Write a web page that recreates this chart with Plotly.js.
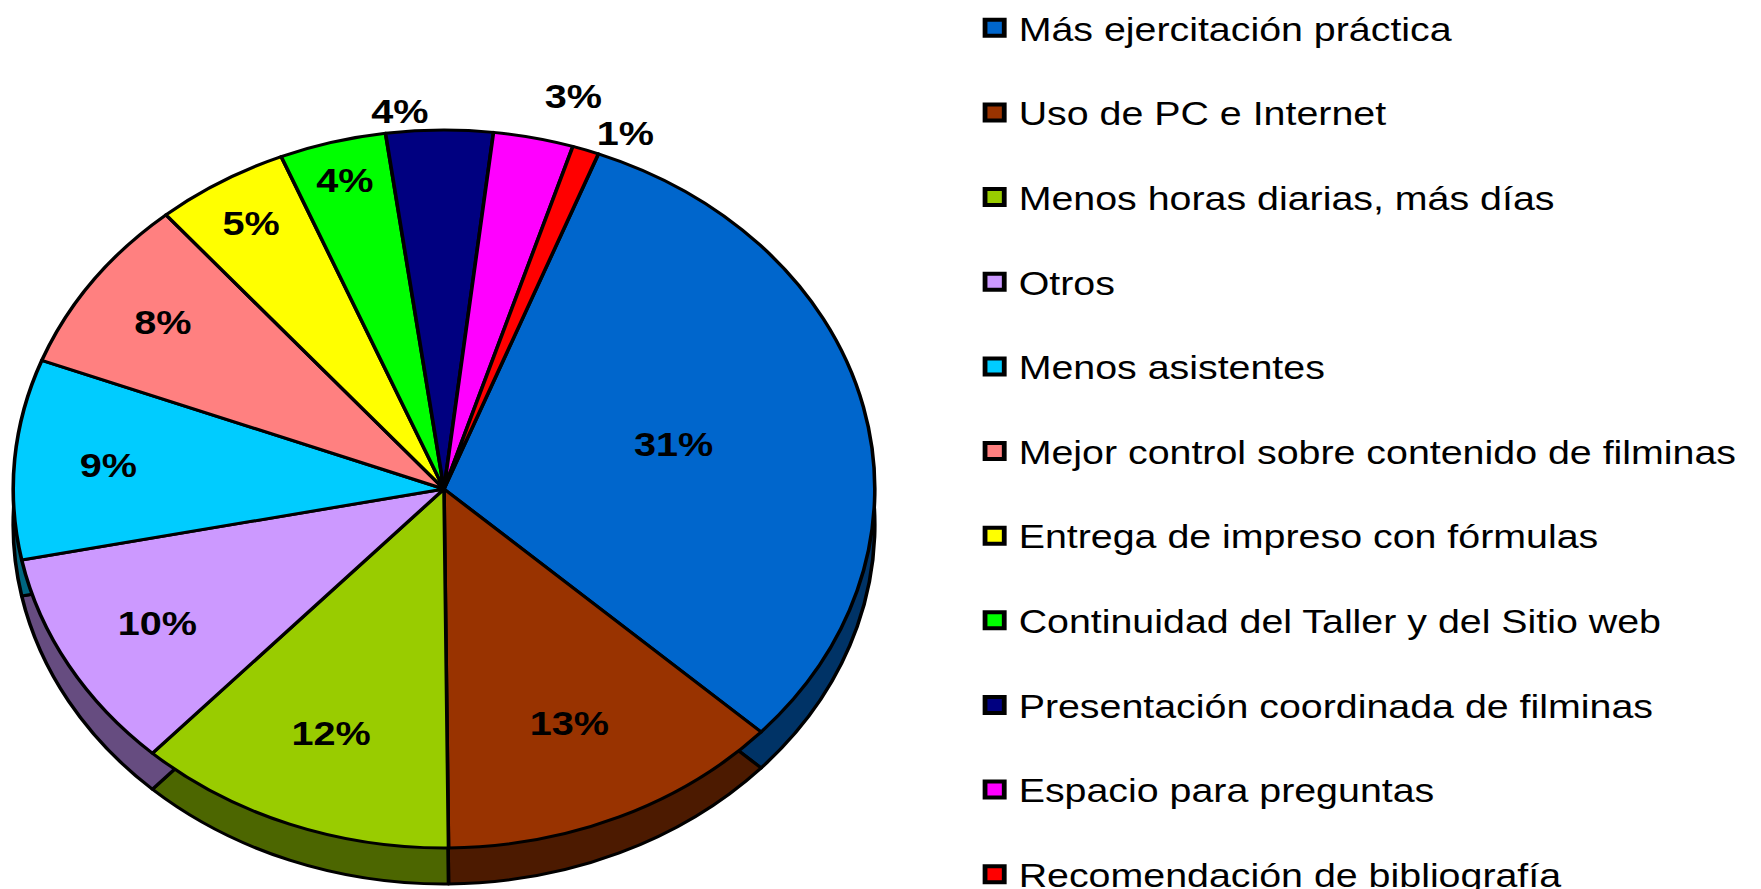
<!DOCTYPE html>
<html>
<head>
<meta charset="utf-8">
<script src="https://cdn.plot.ly/plotly-3.0.1.min.js"></script>
<style>
  html, body { margin: 0; padding: 0; background: #ffffff; overflow: hidden; }
  #chart { width: 1468px; height: 889px; transform: scaleX(1.2); transform-origin: 0 0; }
  #chart .textline { display: none; }
</style>
</head>
<body>
<div id="chart"></div>
<script>
// ---- data ----
const categories = [
  'Más ejercitación práctica',
  'Uso de PC e Internet',
  'Menos horas diarias, más días',
  'Otros',
  'Menos asistentes',
  'Mejor control sobre contenido de filminas',
  'Entrega de impreso con fórmulas',
  'Continuidad del Taller y del Sitio web',
  'Presentación coordinada de filminas',
  'Espacio para preguntas',
  'Recomendación de bibliografía'
];
const percentages = [31, 13, 12, 10, 9, 8, 5, 4, 4, 3, 1];
const topColors = ['#0066CC', '#993300', '#99CC00', '#CC99FF', '#00CCFF', '#FF8080',
                   '#FFFF00', '#00FF00', '#000080', '#FF00FF', '#FF0000'];
const sideColors = ['#003366', '#4C1A00', '#4C6600', '#664C80', '#006680', '#804040',
                    '#808000', '#008000', '#000040', '#800080', '#800000'];
const labelPositions = ['inside', 'inside', 'inside', 'inside', 'inside', 'inside',
                        'inside', 'inside', 'outside', 'outside', 'outside'];

// ---- layout geometry (div pixels, before horizontal stretch) ----
const W = 1468, H = 889;
const cx = 370, cy = 489, r = 359, depth = 36;
function dom(cyy) {
  return {
    x: [(cx - r) / W, (cx + r) / W],
    y: [(H - cyy - r) / H, (H - cyy + r) / H]
  };
}

const labelFont = { family: 'Liberation Sans, Arial, sans-serif', size: 33, color: '#000000', weight: 'bold' };

const sidePie = {
  type: 'pie',
  labels: categories.map(c => c + ' '),
  values: percentages,
  sort: false,
  direction: 'clockwise',
  rotation: 21,
  domain: dom(cy + depth),
  marker: { colors: sideColors, line: { color: '#000000', width: 3 } },
  textinfo: 'none',
  hoverinfo: 'skip',
  showlegend: false
};

const topPie = {
  type: 'pie',
  labels: categories,
  values: percentages,
  sort: false,
  direction: 'clockwise',
  rotation: 21,
  domain: dom(cy),
  marker: { colors: topColors, line: { color: '#000000', width: 3 } },
  textinfo: 'percent',
  textposition: labelPositions,
  insidetextorientation: 'horizontal',
  insidetextfont: labelFont,
  outsidetextfont: labelFont,
  textfont: labelFont,
  showlegend: false,
  hoverinfo: 'label+percent'
};

// legend entries, one per category
const legendTraces = categories.map((c, i) => ({
  type: 'scatter',
  mode: 'markers',
  x: [null], y: [null],
  name: c,
  legendgroup: 'g' + i,
  marker: { symbol: 'square', size: 16, color: topColors[i], line: { color: '#000000', width: 4 } },
  hoverinfo: 'skip'
}));

const layout = {
  width: W, height: H,
  margin: { l: 0, r: 0, t: 0, b: 0 },
  paper_bgcolor: '#ffffff',
  plot_bgcolor: '#ffffff',
  xaxis: { visible: false },
  yaxis: { visible: false },
  showlegend: true,
  legend: {
    x: 0.551, xanchor: 'left',
    y: 1.0, yanchor: 'top',
    maxheight: 1000,
    traceorder: 'grouped',
    tracegroupgap: 39,
    font: { family: 'Liberation Sans, Arial, sans-serif', size: 32.8, color: '#000000' },
    bgcolor: 'rgba(0,0,0,0)',
    borderwidth: 0
  }
};

Plotly.newPlot('chart', [sidePie, topPie].concat(legendTraces), layout, { displayModeBar: false, staticPlot: true });
</script>
</body>
</html>
